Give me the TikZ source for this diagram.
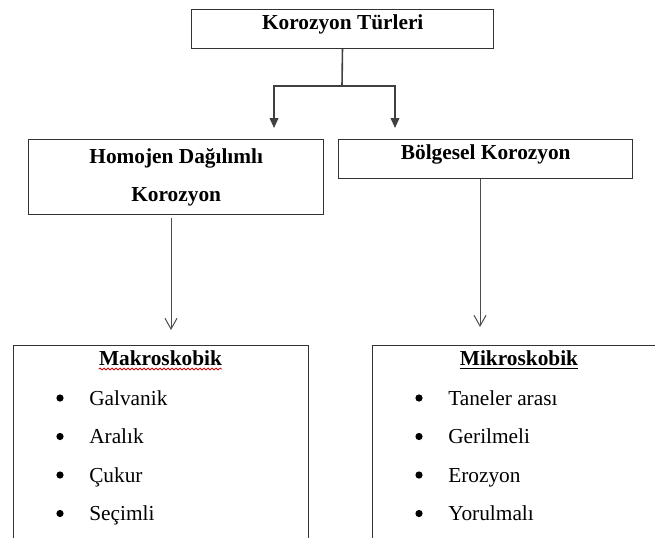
\documentclass[tikz,border=0pt]{standalone}
\usepackage{fontspec}
\setmainfont{Liberation Serif}
\usetikzlibrary{arrows.meta,positioning,decorations.pathmorphing}

\begin{document}
\begin{tikzpicture}[x=0.75pt,y=-0.75pt]
\tikzset{
  headbox/.style={draw=black!80,line width=1.1pt,inner sep=0pt,anchor=north west,align=center,font=\fontsize{16}{28.3}\selectfont\bfseries},
  listbox/.style={draw=black!80,line width=1.1pt,inner sep=0pt,anchor=north west,minimum width=221.25pt,minimum height=180pt},
  listtitle/.style={anchor=base,inner sep=0pt,font=\fontsize{16}{19}\selectfont\bfseries},
  listitem/.style={anchor=base west,inner sep=0pt,font=\fontsize{16}{19}\selectfont},
  listdot/.style={circle,fill=black,inner sep=0pt,minimum size=5.4pt},
  forkline/.style={draw=black!75,line width=1.2pt},
  forkarrow/.style={forkline,-{Triangle[length=7.5pt,width=6.5pt]}},
  thinarrow/.style={draw=black!70,line width=0.75pt,-{Straight Barb[length=8pt,width=9pt]}}
}
\useasboundingbox (0,0) rectangle (655,537);
\clip (0,0) rectangle (655,537);
% header boxes
\node[headbox,minimum width=226.5pt,text height=15pt,text depth=13.9pt] (tur) at (191,9) {Korozyon Türleri};
\node[headbox,minimum width=221.25pt,minimum height=56.25pt] (hom) at (28,139) {Homojen Dağılımlı\\Korozyon};
\node[headbox,minimum width=220.5pt,text height=15pt,text depth=14.25pt] (bol) at (338,139) {Bölgesel Korozyon};
% list boxes (cut off at the bottom)
\node[listbox] (mak) at (13,345) {};
\node[listbox] (mik) at (372,345) {};
\node[listtitle] (makt) at (160.5,365) {Makroskobik};
\node[listtitle] (mikt) at (519,365) {Mikroskobik};
\draw[red!85!black,line width=0.6pt,decorate,decoration={snake,amplitude=0.7pt,segment length=3pt}]
  ([yshift=-3pt]makt.base west) -- ([yshift=-3pt]makt.base east);
\draw[line width=1.4pt] ([yshift=-2.6pt]mikt.base west) -- ([yshift=-2.6pt]mikt.base east);
\foreach \name [count=\i] in {Galvanik,Aralık,Çukur,Seçimli} {
  \node[listdot] (makd\i) at (60,359.5+38.5*\i) {};
  \node[listitem] (maki\i) at (89,366.5+38.5*\i) {\name};
}
\foreach \name [count=\i] in {Taneler arası,Gerilmeli,Erozyon,Yorulmalı} {
  \node[listdot] (mikd\i) at (419,359.5+38.5*\i) {};
  \node[listitem] (miki\i) at (448,366.5+38.5*\i) {\name};
}
% connectors
\coordinate (fork) at (342,86);
\coordinate (lt) at (274,128);
\coordinate (rt) at (395,128);
\coordinate (lowl) at (171,330);
\coordinate (lowr) at (480,327);
\draw[forkline] (tur) -- (fork);
\draw[forkarrow] (fork) -| (lt);
\draw[forkarrow] (fork) -| (rt);
\draw[thinarrow,shorten <=2pt] (hom.south -| lowl) -- (lowl);
\draw[thinarrow] (bol.south -| lowr) -- (lowr);
\end{tikzpicture}
\end{document}
